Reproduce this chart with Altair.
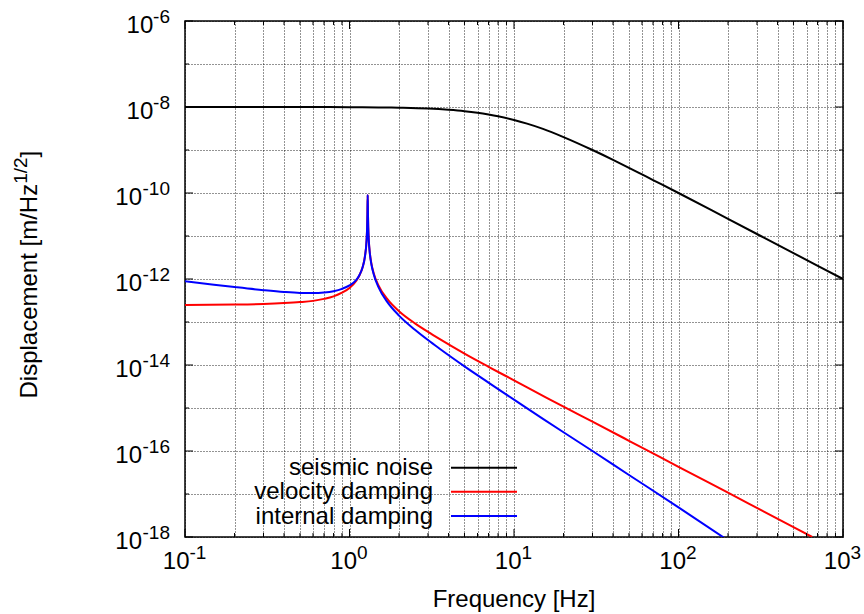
import math
import altair as alt
import pandas as pd

FONT = "Liberation Sans"

# ---------------- data ----------------
series_names = ["seismic noise", "velocity damping", "internal damping"]
series_colors = ["#000000", "#ff0000", "#0000ff"]

seismic_f = [0.1, 0.2, 0.5, 1, 1.5, 2, 3, 4, 5, 6, 7, 8, 10, 12, 15, 20, 30, 40,
             50, 60, 70, 100, 200, 500, 1000]
seismic_d = [1.0e-8, 1.0e-8, 1.0e-8, 0.99e-8, 0.98e-8, 0.96e-8, 0.917e-8, 0.86e-8,
             0.8e-8, 0.735e-8, 0.67e-8, 0.61e-8, 0.5e-8, 4.1e-9, 3.1e-9, 2.0e-9,
             1.0e-9, 5.9e-10, 3.85e-10, 2.7e-10, 2.0e-10, 1.0e-10, 2.5e-11, 4.0e-12,
             1.0e-12]

velocity_f = [0.1, 0.2, 0.3, 0.4, 0.5, 0.6, 0.7, 0.8, 0.9, 1.0, 1.1, 1.15, 1.2,
              1.24, 1.27, 1.28, 1.285, 1.29, 1.295, 1.30, 1.31, 1.33, 1.36, 1.4,
              1.5, 1.7, 2, 2.5, 3, 3.5, 5, 7, 10, 15, 20, 30, 50, 100, 200, 500, 650]
velocity_d = [2.5e-13, 2.55e-13, 2.63e-13, 2.75e-13, 2.9e-13, 3.1e-13, 3.45e-13,
              3.95e-13, 4.8e-13, 6.2e-13, 9.1e-13, 1.22e-12, 1.85e-12, 3.3e-12,
              8.1e-12, 1.6e-11, 3.2e-11, 9.0e-11, 3.2e-11, 1.6e-11, 8.0e-12,
              4.0e-12, 2.25e-12, 1.4e-12, 7.1e-13, 3.4e-13, 1.78e-13, 9.3e-14,
              5.9e-14, 4.1e-14, 1.84e-14, 9.1e-15, 4.4e-15, 1.92e-15, 1.07e-15,
              4.8e-16, 1.73e-16, 4.3e-17, 1.07e-17, 1.7e-18, 1.0e-18]

internal_f = [0.1, 0.15, 0.2, 0.3, 0.4, 0.5, 0.6, 0.7, 0.8, 0.9, 1.0, 1.1, 1.15,
              1.2, 1.24, 1.27, 1.28, 1.285, 1.29, 1.295, 1.30, 1.31, 1.33, 1.36,
              1.4, 1.5, 1.7, 2, 2.5, 3, 3.5, 5, 7, 10, 15, 20, 30, 50, 100, 190]
internal_d = [8.9e-13, 7.36e-13, 6.49e-13, 5.5e-13, 4.99e-13, 4.75e-13, 4.71e-13,
              4.85e-13, 5.21e-13, 5.9e-13, 7.1e-13, 9.5e-13, 1.24e-12, 1.86e-12,
              3.23e-12, 8.0e-12, 1.6e-11, 3.2e-11, 9.0e-11, 3.2e-11, 1.58e-11,
              7.8e-12, 3.86e-12, 2.15e-12, 1.33e-12, 6.5e-13, 2.9e-13, 1.41e-13,
              6.6e-14, 3.8e-14, 2.45e-14, 9.3e-15, 3.9e-15, 1.56e-15, 5.6e-16,
              2.73e-16, 1.0e-16, 2.77e-17, 4.9e-18, 9.5e-19]

x_label_vals = [0.1, 1, 10, 100, 1000]
x_label_exps = ["-1", "0", "1", "2", "3"]
y_label_vals = [1e-6, 1e-8, 1e-10, 1e-12, 1e-14, 1e-16, 1e-18]
y_label_exps = ["-6", "-8", "-10", "-12", "-14", "-16", "-18"]

x_title = "Frequency [Hz]"
y_title_parts = ["Displacement [m/Hz", "1/2", "]"]

# ---------------- layout ----------------
W, H = 658, 516

x_grid_vals = [round(m * 10.0 ** e, 6) for e in range(-1, 3) for m in range(1, 10)] + [1000]
y_grid_vals = [10.0 ** e for e in range(-18, -5)]

xscale = alt.Scale(type="log", domain=[0.1, 1000], nice=False)
yscale = alt.Scale(type="log", domain=[1e-18, 1e-6], nice=False)

grid_style = dict(labels=False, ticks=False, domain=False, grid=True,
                  gridDash=[1, 2], gridColor="#000000", gridOpacity=0.85,
                  gridWidth=1, title=None)
xaxis = alt.Axis(values=x_grid_vals, **grid_style)
yaxis = alt.Axis(values=y_grid_vals, **grid_style)

x_enc = alt.X("f:Q", scale=xscale, axis=xaxis)
y_enc = alt.Y("d:Q", scale=yscale, axis=yaxis)

layers = []

# curves (drawn in gnuplot order: black, red, blue on top)
for name, fs, ds, col in zip(series_names,
                             [seismic_f, velocity_f, internal_f],
                             [seismic_d, velocity_d, internal_d],
                             series_colors):
    dfl = pd.DataFrame({"f": fs, "d": ds})
    layers.append(
        alt.Chart(dfl).mark_line(clip=True, strokeWidth=2, color=col,
                                 interpolate="monotone")
        .encode(x=x_enc, y=y_enc)
    )

# inward ticks
xt = pd.DataFrame({"f": x_grid_vals})
xt["major"] = [abs(round(math.log10(v)) - math.log10(v)) < 1e-9 for v in x_grid_vals]
yt = pd.DataFrame({"d": y_grid_vals, "major": [i % 2 == 0 for i in range(len(y_grid_vals))]})

for major, ln in [(True, 8), (False, 4)]:
    sub = xt[xt["major"] == major]
    layers.append(alt.Chart(sub).mark_rule(color="black", strokeWidth=1)
                  .encode(x=x_enc, y=alt.value(H), y2=alt.value(H - ln)))
    layers.append(alt.Chart(sub).mark_rule(color="black", strokeWidth=1)
                  .encode(x=x_enc, y=alt.value(0), y2=alt.value(ln)))
    suby = yt[yt["major"] == major]
    layers.append(alt.Chart(suby).mark_rule(color="black", strokeWidth=1)
                  .encode(y=y_enc, x=alt.value(0), x2=alt.value(ln)))
    layers.append(alt.Chart(suby).mark_rule(color="black", strokeWidth=1)
                  .encode(y=y_enc, x=alt.value(W), x2=alt.value(W - ln)))

# x tick labels: "10" + superscript exponent
xl = pd.DataFrame({"f": x_label_vals, "e": x_label_exps})
xl["neg"] = xl["e"].str.startswith("-")
for neg, dx in [(True, 4.5), (False, 7.5)]:
    sub = xl[xl["neg"] == neg]
    layers.append(alt.Chart(sub).mark_text(align="right", baseline="alphabetic",
                                           font=FONT, fontSize=24, dx=dx, color="black")
                  .encode(x=x_enc, y=alt.value(H + 32), text=alt.value("10")))
    layers.append(alt.Chart(sub).mark_text(align="left", baseline="alphabetic",
                                           font=FONT, fontSize=19, dx=dx, color="black")
                  .encode(x=x_enc, y=alt.value(H + 22), text="e:N"))

# y tick labels
yl = pd.DataFrame({"d": y_label_vals, "e": y_label_exps})
yl["long"] = yl["e"].str.len() > 2
layers.append(alt.Chart(yl).mark_text(align="right", baseline="alphabetic",
                                      font=FONT, fontSize=19, dx=-15, dy=1.6, color="black")
              .encode(y=y_enc, x=alt.value(0), text="e:N"))
for lg, dx in [(False, -31.7), (True, -43.0)]:
    sub = yl[yl["long"] == lg]
    layers.append(alt.Chart(sub).mark_text(align="right", baseline="alphabetic",
                                           font=FONT, fontSize=24, dx=dx, dy=11.6, color="black")
                  .encode(y=y_enc, x=alt.value(0), text=alt.value("10")))

# axis titles
layers.append(alt.Chart(pd.DataFrame({"t": [x_title]})).mark_text(
    align="center", baseline="alphabetic", font=FONT, fontSize=24, color="black")
    .encode(x=alt.value(W / 2), y=alt.value(586), text="t:N"))

yt_df = pd.DataFrame({"t": y_title_parts})
ytx, yty = 37.3 - 185, 183.8 - 21
layers.append(alt.Chart(yt_df.iloc[[0]]).mark_text(
    align="right", baseline="alphabetic", font=FONT, fontSize=24, angle=270, color="black")
    .encode(x=alt.value(ytx), y=alt.value(yty), text="t:N"))
layers.append(alt.Chart(yt_df.iloc[[1]]).mark_text(
    align="left", baseline="alphabetic", font=FONT, fontSize=19, angle=270, dy=-10, color="black")
    .encode(x=alt.value(ytx), y=alt.value(yty), text="t:N"))
layers.append(alt.Chart(yt_df.iloc[[2]]).mark_text(
    align="left", baseline="alphabetic", font=FONT, fontSize=24, angle=270, dx=26.4, color="black")
    .encode(x=alt.value(ytx), y=alt.value(yty), text="t:N"))

# legend (gnuplot style: label left, sample right)
row_y = [446.7, 470.7, 495.0]
for name, col, ry in zip(series_names, series_colors, row_y):
    ldf = pd.DataFrame({"t": [name]})
    layers.append(alt.Chart(ldf).mark_text(align="right", baseline="alphabetic",
                                           font=FONT, fontSize=24, color="black")
                  .encode(x=alt.value(248), y=alt.value(ry + 7.5), text="t:N"))
    layers.append(alt.Chart(ldf).mark_rule(color=col, strokeWidth=2)
                  .encode(x=alt.value(266), x2=alt.value(332), y=alt.value(ry)))

chart = alt.layer(*layers).properties(
    width=W, height=H,
    autosize=alt.AutoSizeParams(type="none"),
    padding={"left": 185, "top": 21, "right": 21, "bottom": 77},
    background="white",
).configure_view(stroke="black", strokeWidth=1.5)

chart.save("out.html", embed_options={"renderer": "svg", "actions": False})
